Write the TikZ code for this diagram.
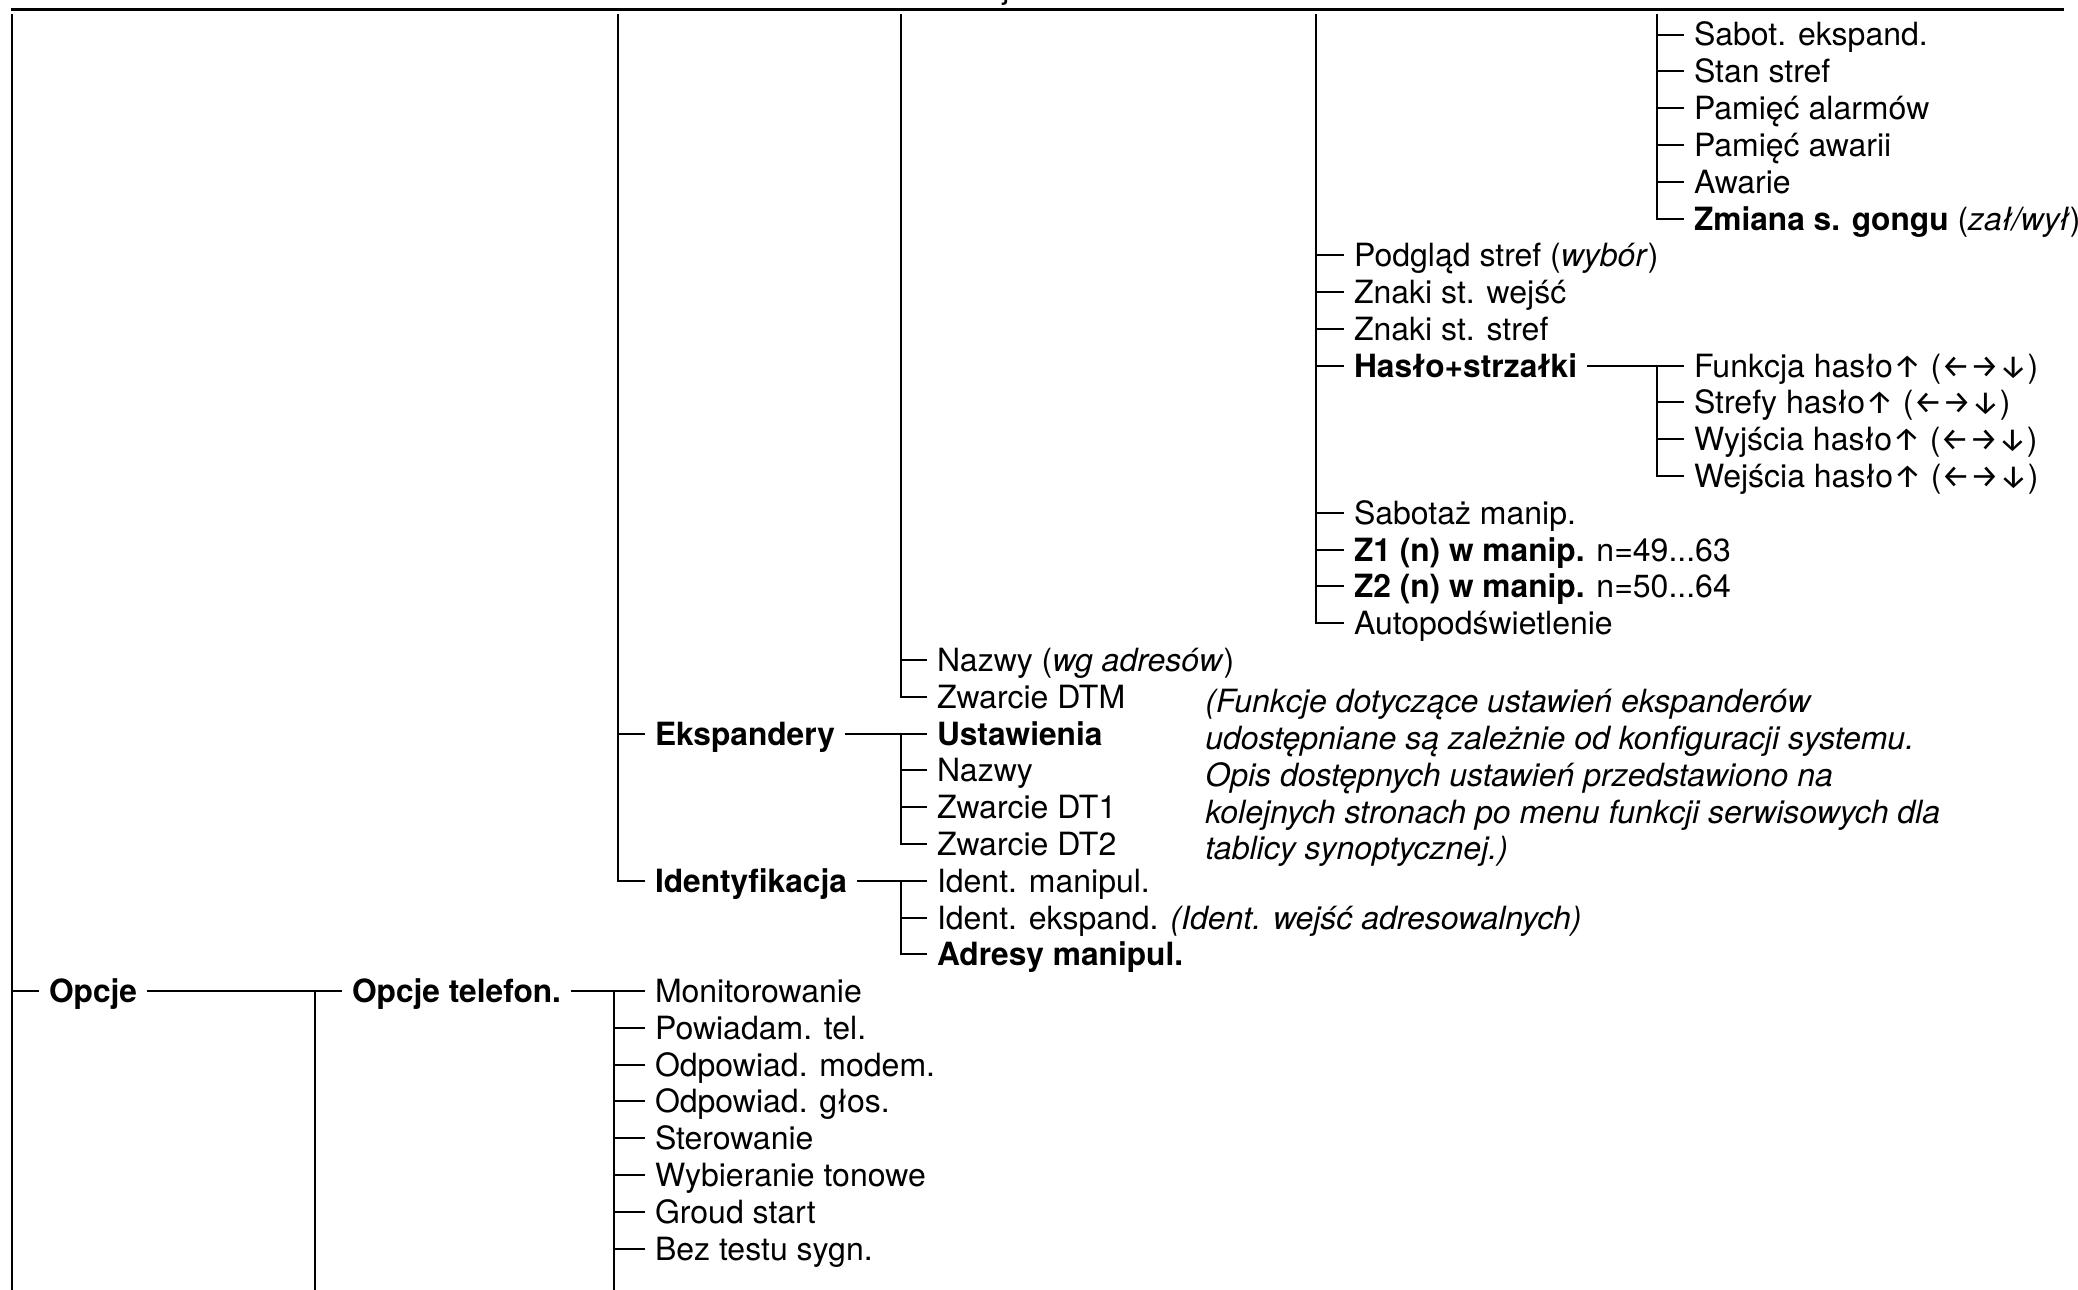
\documentclass[tikz,border=0pt]{standalone}
\usepackage{fontspec}
\setmainfont{TeX Gyre Heros}[BoldFeatures={FakeStretch=0.99}]
\newfontfamily\arrowfont{Fira Sans}
\usetikzlibrary{positioning}

\newcommand{\menusize}{\fontsize{16pt}{18.4pt}\selectfont}
\newcommand{\hup}{{\arrowfont ↑}}
\newcommand{\harr}{({\arrowfont ←→↓})}

\begin{document}
\begin{tikzpicture}[x=0.5pt, y=-0.5pt, font=\menusize,
    tree/.style={line width=1pt},
    item/.style={anchor=west, inner xsep=5pt, inner ysep=0pt, outer sep=0pt,
      text height=11.5pt, text depth=0pt},
    note/.style={anchor=north west, align=left, inner sep=0pt, font=\menusize\itshape}]
    \useasboundingbox (0,0) rectangle (2078,1290);
    \begin{scope}
        \clip (0,0) rectangle (2078,7.5);
        \node[anchor=base west, inner sep=0pt] (hdr) at (1002,-2) {j};
    \end{scope}
    \coordinate (ruleL) at (11,9);
    \coordinate (ruleR) at (2064,9);
    \draw[line width=1.5pt] (ruleL) -- (ruleR);

    \coordinate (sA) at (12,14);
    \coordinate (sB) at (315,14);
    \coordinate (sC) at (618,14);
    \coordinate (sCC) at (614,14);
    \coordinate (sD) at (901,14);
    \coordinate (sE) at (1316,14);
    \coordinate (sF) at (1657,14);
    \coordinate (bot) at (0,1290);

    \node[item] (sabot) at (1684,34.5) {Sabot. ekspand.};
    \node[item] (stan) at (1684,71.3) {Stan stref};
    \node[item] (pamal) at (1684,108.1) {Pamięć alarmów};
    \node[item] (pamaw) at (1684,144.9) {Pamięć awarii};
    \node[item] (awarie) at (1684,181.7) {Awarie};
    \node[item] (gong) at (1684,218.5) {\textbf{Zmiana s. gongu} (\textit{zał/wył})};

    \node[item] (podglad) at (1344,255.2) {Podgląd stref (\textit{wybór})};
    \node[item] (znakiw) at (1344,292.0) {Znaki st. wejść};
    \node[item] (znakis) at (1344,328.8) {Znaki st. stref};
    \node[item] (haslo) at (1344,365.6) {\textbf{Hasło+strzałki}};
    \node[item] (funk) at (1684,365.6) {Funkcja hasło\hup\ \harr};
    \node[item] (strefy) at (1684,402.4) {Strefy hasło\hup\ \harr};
    \node[item] (wyj) at (1684,439.2) {Wyjścia hasło\hup\ \harr};
    \node[item] (wej) at (1684,476.0) {Wejścia hasło\hup\ \harr};
    \node[item] (sabman) at (1344,512.8) {Sabotaż manip.};
    \node[item] (zone1) at (1344,549.6) {\textbf{Z1 (n) w manip.} n=49...63};
    \node[item] (zone2) at (1344,586.4) {\textbf{Z2 (n) w manip.} n=50...64};
    \node[item] (autop) at (1344,623.1) {Autopodświetlenie};

    \node[item] (nazwyadr) at (927,659.9) {Nazwy (\textit{wg adresów})};
    \node[item] (dtm) at (927,696.7) {Zwarcie DTM};
    \node[item] (eksp) at (645,733.5) {\textbf{Ekspandery}};
    \node[item] (ustaw) at (927,733.5) {\textbf{Ustawienia}};
    \node[item] (nazwy) at (927,770.3) {Nazwy};
    \node[item] (dt1) at (927,807.1) {Zwarcie DT1};
    \node[item] (dt2) at (927,843.9) {Zwarcie DT2};
    \node[item] (ident) at (645,880.7) {\textbf{Identyfikacja}};
    \node[item] (idman) at (927,880.7) {Ident. manipul.};
    \node[item] (ideksp) at (927,917.5) {Ident. ekspand. \textit{(Ident. wejść adresowalnych)}};
    \node[item] (adresy) at (927,954.3) {\textbf{Adresy manipul.}};

    \node[note] (hint) at (1205,689) {(Funkcje dotyczące ustawień ekspanderów\\
        udostępniane są zależnie od konfiguracji systemu.\\
        Opis dostępnych ustawień przedstawiono na\\
        kolejnych stronach po menu funkcji serwisowych dla\\
        tablicy synoptycznej.)};

    \node[item] (opcje) at (39,991.0) {\textbf{Opcje}};
    \node[item] (opctel) at (342,991.0) {\textbf{Opcje telefon.}};
    \node[item] (monit) at (645,991.0) {Monitorowanie};
    \node[item] (powiad) at (645,1027.8) {Powiadam. tel.};
    \node[item] (modem) at (645,1064.6) {Odpowiad. modem.};
    \node[item] (glos) at (645,1101.4) {Odpowiad. głos.};
    \node[item] (sterow) at (645,1138.2) {Sterowanie};
    \node[item] (tonowe) at (645,1175.0) {Wybieranie tonowe};
    \node[item] (groud) at (645,1211.8) {Groud start};
    \node[item] (beztest) at (645,1248.6) {Bez testu sygn.};

    \draw[tree] (sA) -- (sA |- bot) (sA |- opcje.west) -- (opcje.west);
    \draw[tree] (opcje.east) -- (opctel.west) (sB |- opctel.west) -- (sB |- bot);
    \draw[tree] (opctel.east) -- (monit.west) (sCC |- monit.west) -- (sCC |- bot)
        (sCC |- powiad.west) -- (powiad.west)
        (sCC |- modem.west) -- (modem.west)
        (sCC |- glos.west) -- (glos.west)
        (sCC |- sterow.west) -- (sterow.west)
        (sCC |- tonowe.west) -- (tonowe.west)
        (sCC |- groud.west) -- (groud.west)
        (sCC |- beztest.west) -- (beztest.west);

    \draw[tree] (sC) -- (sC |- ident.west) -- (ident.west)
        (sC |- eksp.west) -- (eksp.west);
    \draw[tree] (eksp.east) -- (ustaw.west) (sD |- ustaw.west) -- (sD |- dt2.west) -- (dt2.west)
        (sD |- nazwy.west) -- (nazwy.west)
        (sD |- dt1.west) -- (dt1.west);
    \draw[tree] (ident.east) -- (idman.west) (sD |- idman.west) -- (sD |- adresy.west) -- (adresy.west)
        (sD |- ideksp.west) -- (ideksp.west);

    \draw[tree] (sD) -- (sD |- dtm.west) -- (dtm.west)
        (sD |- nazwyadr.west) -- (nazwyadr.west);

    \draw[tree] (sE) -- (sE |- autop.west) -- (autop.west)
        (sE |- podglad.west) -- (podglad.west)
        (sE |- znakiw.west) -- (znakiw.west)
        (sE |- znakis.west) -- (znakis.west)
        (sE |- haslo.west) -- (haslo.west)
        (sE |- sabman.west) -- (sabman.west)
        (sE |- zone1.west) -- (zone1.west)
        (sE |- zone2.west) -- (zone2.west);
    \draw[tree] (haslo.east) -- (funk.west) (sF |- funk.west) -- (sF |- wej.west) -- (wej.west)
        (sF |- strefy.west) -- (strefy.west)
        (sF |- wyj.west) -- (wyj.west);

    \draw[tree] (sF) -- (sF |- gong.west) -- (gong.west)
        (sF |- sabot.west) -- (sabot.west)
        (sF |- stan.west) -- (stan.west)
        (sF |- pamal.west) -- (pamal.west)
        (sF |- pamaw.west) -- (pamaw.west)
        (sF |- awarie.west) -- (awarie.west);
\end{tikzpicture}
\end{document}
